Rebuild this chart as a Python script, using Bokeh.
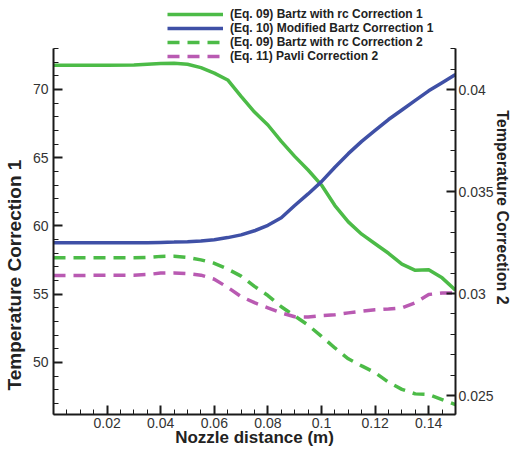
import math
from bokeh.plotting import figure
from bokeh.models import (Range1d, LinearAxis, FixedTicker, CustomJSTickFormatter,
                          Legend, LegendItem, Title)
from bokeh.embed import file_html
from bokeh.resources import INLINE

# ---- data ----
x_dist = [0, 0.01, 0.02, 0.03, 0.035, 0.04, 0.045, 0.05, 0.055, 0.06, 0.065, 0.07,
          0.075, 0.08, 0.085, 0.09, 0.095, 0.1, 0.105, 0.11, 0.115, 0.12, 0.125,
          0.13, 0.135, 0.14, 0.145, 0.15]
bartz_rc_corr1 = [71.78, 71.78, 71.78, 71.8, 71.85, 71.9, 71.93, 71.85, 71.6, 71.2, 70.7, 69.5,
                  68.35, 67.4, 66.2, 65.1, 64.1, 63.0, 61.5, 60.3, 59.4, 58.7, 58.0,
                  57.2, 56.75, 56.8, 56.2, 55.3]
mod_bartz_corr1 = [58.78, 58.78, 58.78, 58.78, 58.78, 58.8, 58.82, 58.85, 58.9, 59.0, 59.15, 59.35,
                   59.65, 60.05, 60.6, 61.5, 62.35, 63.25, 64.3, 65.3, 66.2, 67.0, 67.8,
                   68.5, 69.2, 69.9, 70.5, 71.1]
bartz_rc_corr2 = [0.03175, 0.03175, 0.03175, 0.03175, 0.03177, 0.03182, 0.03183, 0.03177, 0.03165,
                  0.03148, 0.0312, 0.03085, 0.03035, 0.0299, 0.02935, 0.0289, 0.02845, 0.0279,
                  0.02733, 0.0268, 0.02645, 0.02612, 0.02565, 0.0253, 0.02508, 0.02505, 0.0248,
                  0.02455]
pavli_corr2 = [0.03088, 0.03088, 0.0309, 0.0309, 0.03093, 0.031, 0.03101, 0.03098, 0.0309,
               0.0307, 0.0303, 0.02985, 0.02955, 0.0293, 0.02905, 0.02886, 0.02885, 0.02892,
               0.02896, 0.02905, 0.02913, 0.0292, 0.02924, 0.0293, 0.02955, 0.02995, 0.03003,
               0.03002]

series_labels = ["(Eq. 09) Bartz with rc Correction 1",
                 "(Eq. 10) Modified Bartz Correction 1",
                 "(Eq. 09) Bartz with rc Correction 2",
                 "(Eq. 11) Pavli Correction 2"]
x_label = "Nozzle distance (m)"
y1_label = "Temperature Correction 1"
y2_label = "Temperature Correction 2"
x_ticks = [0.02, 0.04, 0.06, 0.08, 0.1, 0.12, 0.14]
y1_ticks = [50, 55, 60, 65, 70]
y2_ticks = [0.025, 0.03, 0.035, 0.04]

GREEN = "#4cbb47"
BLUE = "#3f50a6"
PINK = "#b95ab2"
AX = "#1a1a1a"
FONT = "Liberation Sans"

# The frame runs up to the top of the canvas so the legend (drawn above the
# axes' extent) is not clipped; the y axes are bounded to the reference extent.
p = figure(width=514, height=452, output_backend="svg", toolbar_location=None,
           x_range=Range1d(0, 0.15), y_range=Range1d(46.19, 76.52),
           min_border_left=53, min_border_right=59, min_border_top=0, min_border_bottom=38)
p.title = None
p.extra_y_ranges = {"r": Range1d(0.024069, 0.044363)}
p.outline_line_color = None
p.grid.visible = False
p.background_fill_color = "white"
p.border_fill_color = "white"

fmt = CustomJSTickFormatter(code="return Number(tick.toFixed(4)).toString();")

def style_axis(ax, minor_step, ticks, lo, hi):
    minors = []
    k = 0
    v = lo
    while v <= hi + 1e-12:
        minors.append(round(v, 6))
        k += 1
        v = lo + k * minor_step
    ax.ticker = FixedTicker(ticks=ticks, minor_ticks=minors)
    ax.formatter = fmt
    ax.axis_line_color = AX
    ax.axis_line_width = 2
    ax.major_tick_line_color = AX
    ax.minor_tick_line_color = AX
    ax.major_tick_line_width = 2
    ax.minor_tick_line_width = 1
    ax.major_tick_in = 9
    ax.major_tick_out = 0
    ax.minor_tick_in = 5
    ax.minor_tick_out = 0
    ax.major_label_text_font = FONT
    ax.major_label_text_font_size = "14px"
    ax.major_label_text_color = "#333333"
    ax.axis_label_text_font = FONT
    ax.axis_label_text_font_style = "bold"
    ax.axis_label_text_color = "#222222"

xa = p.xaxis[0]
style_axis(xa, 0.005, x_ticks, 0.0, 0.15)
xa.axis_label = x_label
xa.axis_label_text_font_size = "17px"
xa.major_label_standoff = 3
xa.axis_label_standoff = -3

ya = p.yaxis[0]
style_axis(ya, 1.0, y1_ticks, 47, 73)
ya.bounds = (46.19, 73.0)
ya.major_label_standoff = 5
p.add_layout(Title(text=y1_label, align="left", offset=24, standoff=6,
                   vertical_align="top",
                   text_font=FONT, text_font_style="bold", text_font_size="19px",
                   text_color="#222222"), "left")

ra = LinearAxis(y_range_name="r")
style_axis(ra, 0.001, y2_ticks, 0.025, 0.042)
ra.bounds = (0.024069, 0.04201)
ra.major_label_standoff = 3
ra.axis_label = y2_label
ra.axis_label_text_font_size = "16px"
ra.axis_label_standoff = -3
p.add_layout(ra, "right")

r1 = p.line(x_dist, bartz_rc_corr1, line_color=GREEN, line_width=3.5)
r2 = p.line(x_dist, mod_bartz_corr1, line_color=BLUE, line_width=3.5)
r3 = p.line(x_dist, bartz_rc_corr2, line_color=GREEN, line_width=3.5,
            line_dash="12 8", y_range_name="r")
r4 = p.line(x_dist, pavli_corr2, line_color=PINK, line_width=3.5,
            line_dash="12 8", y_range_name="r")

legend = Legend(items=[LegendItem(label=series_labels[0], renderers=[r1]),
                       LegendItem(label=series_labels[1], renderers=[r2]),
                       LegendItem(label=series_labels[2], renderers=[r3]),
                       LegendItem(label=series_labels[3], renderers=[r4])],
                location=(114, 351), orientation="vertical",
                background_fill_alpha=0, border_line_color=None,
                padding=0, margin=0, spacing=0,
                glyph_width=56, glyph_height=14, label_height=14,
                label_standoff=7,
                label_text_font=FONT, label_text_font_style="bold",
                label_text_font_size="12px", label_text_color="#222222")
p.add_layout(legend, "center")

open("out.html", "w").write(file_html(p, INLINE))
